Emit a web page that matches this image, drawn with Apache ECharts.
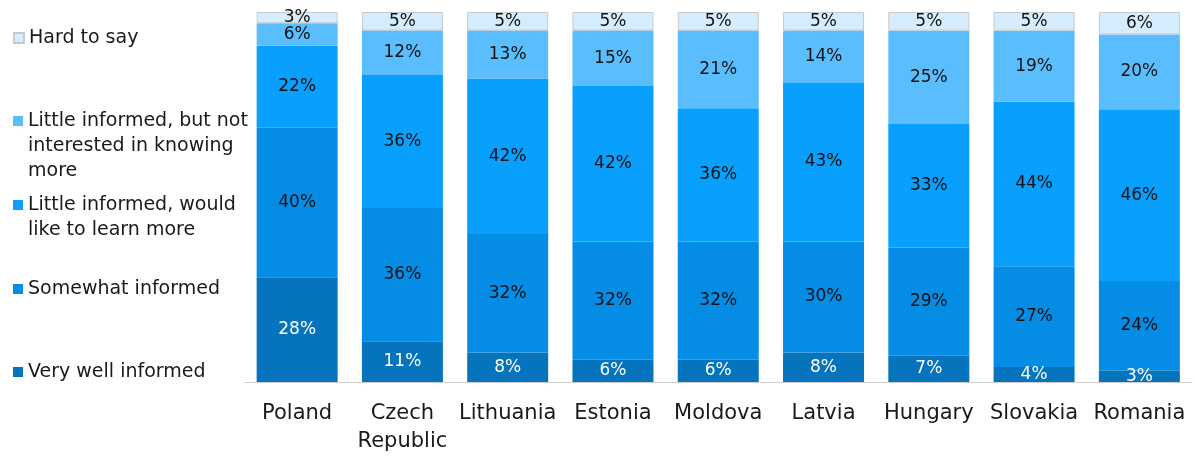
<!DOCTYPE html>
<html><head><meta charset="utf-8">
<script src="https://cdn.jsdelivr.net/npm/echarts@6/dist/echarts.min.js"></script>
<style>html,body{margin:0;padding:0;background:#fff}#c{width:1196px;height:458px}</style>
</head><body><div id="c"></div>
<script>
const categories = ['Poland', 'Czech\nRepublic', 'Lithuania', 'Estonia', 'Moldova', 'Latvia', 'Hungary', 'Slovakia', 'Romania'];
const veryWell      = [28, 11, 8, 6, 6, 8, 7, 4, 3];
const somewhat      = [40, 36, 32, 32, 32, 30, 29, 27, 24];
const littleWould   = [22, 36, 42, 42, 36, 43, 33, 44, 46];
const littleNot     = [6, 12, 13, 15, 21, 14, 25, 19, 20];
const hardToSay     = [3, 5, 5, 5, 5, 5, 5, 5, 6];

const seriesNames = ['Very well informed', 'Somewhat informed', 'Little informed, would like to learn more', 'Little informed, but not interested in knowing more', 'Hard to say'];
const legendLines = {
  'Hard to say': ['Hard to say'],
  'Little informed, but not interested in knowing more': ['Little informed, but not', 'interested in knowing', 'more'],
  'Little informed, would like to learn more': ['Little informed, would', 'like to learn more'],
  'Somewhat informed': ['Somewhat informed'],
  'Very well informed': ['Very well informed']
};
const colors = ['#0574BC', '#058CE4', '#08A0FC', '#5ABEFE', '#D5EDFE'];
const raw = [veryWell, somewhat, littleWould, littleNot, hardToSay];
const totals = categories.map((_, i) => raw.reduce((s, a) => s + a[i], 0));

const FONT = 'DejaVu Sans';
const LH = 25;
const chart = echarts.init(document.getElementById('c'), null, {renderer: 'canvas'});

const series = raw.map((arr, k) => ({
  name: seriesNames[k],
  type: 'bar',
  stack: 'all',
  barWidth: 81,
  data: arr.map((v, i) => ({value: v / totals[i] * 100, raw: v})),
  itemStyle: {color: colors[k], borderColor: k === 4 ? '#c9c9c9' : colors[k], borderWidth: k === 4 ? 1 : 0},
  label: {
    show: true, position: 'inside',
    formatter: p => p.data.raw + '%',
    color: k === 0 ? '#ffffff' : '#111111',
    fontFamily: FONT, fontSize: 17
  },
  emphasis: {disabled: true}
}));

// first-line centre y of each legend entry
const legendPos = [
  {name: 'Hard to say', y: 37},
  {name: 'Little informed, but not interested in knowing more', y: 120},
  {name: 'Little informed, would like to learn more', y: 204},
  {name: 'Somewhat informed', y: 288},
  {name: 'Very well informed', y: 371}
];

const legends = legendPos.map(l => {
  const lines = legendLines[l.name];
  const extra = lines.length - 1;
  const text = Array(extra).fill('\u200b').concat(lines).join('\n');
  const total = lines.length + extra;
  return {
    data: [l.name], left: 13, top: l.y - total * LH / 2 + 1, orient: 'vertical', padding: 0,
    icon: 'rect', itemWidth: 10, itemHeight: 10, itemGap: 0,
    selectedMode: false,
    formatter: () => text,
    textStyle: {fontFamily: FONT, fontSize: 19, color: '#1a1a1a', lineHeight: LH}
  };
});

chart.setOption({
  animation: false,
  color: colors,
  legend: legends,
  grid: {left: 244.5, right: 4, top: 12, bottom: 76, containLabel: false},
  xAxis: {
    type: 'category', data: categories,
    axisLine: {lineStyle: {color: '#d0d0d0', width: 1}},
    axisTick: {show: false},
    axisLabel: {fontFamily: FONT, fontSize: 21, color: '#1a1a1a', lineHeight: 28, margin: 18, interval: 0}
  },
  yAxis: {type: 'value', min: 0, max: 100, show: false, splitLine: {show: false}},
  series: series
});
</script></body></html>
